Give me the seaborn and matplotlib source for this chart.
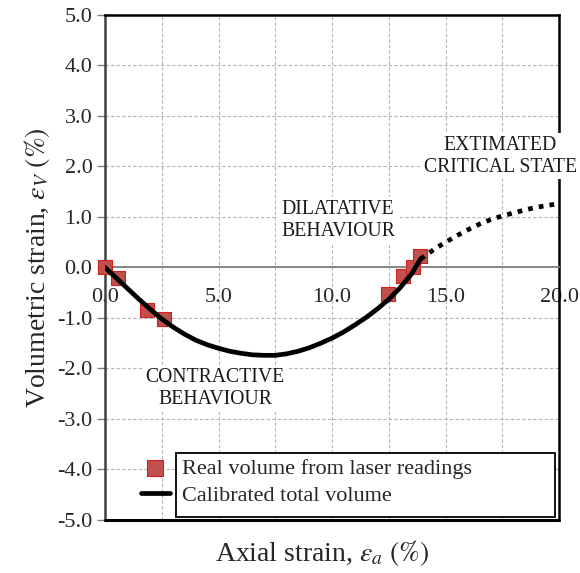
import numpy as np
import pandas as pd
import matplotlib
matplotlib.use('Agg')
import matplotlib.pyplot as plt
import seaborn as sns
from matplotlib.patches import Rectangle
from matplotlib.ticker import MultipleLocator

# laser readings (axial %, volumetric %)
laser_x = [0.0, 0.56, 1.86, 2.6, 12.45, 13.11, 13.55, 13.88]
laser_y = [0.0, -0.21, -0.85, -1.02, -0.52, -0.16, 0.0, 0.22]

# calibrated curve
calib_x = [0.0, 0.5, 1.0, 1.5, 2.0, 2.5, 3.0, 3.5, 4.0, 4.5, 5.0, 5.5, 6.0, 6.5, 7.0, 7.5,
           8.0, 8.5, 9.0, 9.5, 10.0, 10.5, 11.0, 11.5, 12.0, 12.5, 13.0, 13.5, 13.9]
calib_y = [0.0, -0.21, -0.42, -0.63, -0.83, -1.02, -1.18, -1.32, -1.44, -1.53, -1.60, -1.66,
           -1.70, -1.73, -1.74, -1.74, -1.71, -1.66, -1.59, -1.50, -1.40, -1.28, -1.14,
           -0.99, -0.82, -0.63, -0.40, -0.13, 0.17]

# extrapolated critical state (dotted)
crit_x = [13.9, 14.5, 15.0, 15.5, 16.0, 16.5, 17.0, 17.5, 18.0, 18.5, 19.0, 19.5, 19.8]
crit_y = [0.17, 0.36, 0.50, 0.63, 0.75, 0.86, 0.95, 1.02, 1.08, 1.14, 1.19, 1.23, 1.25]

laser = pd.DataFrame({'x': laser_x, 'y': laser_y})
calib = pd.DataFrame({'x': calib_x, 'y': calib_y})
crit = pd.DataFrame({'x': crit_x, 'y': crit_y})

sns.set_style('white')
plt.rcParams['font.family'] = ['Liberation Serif', 'DejaVu Serif']
plt.rcParams['mathtext.fontset'] = 'stix'

fig = plt.figure(figsize=(5.8, 5.73), dpi=100)
ax = fig.add_axes([0.181, 0.0925, 0.783, 0.8815])

ax.set_xlim(0, 20)
ax.set_ylim(-5, 5)
ax.xaxis.set_major_locator(MultipleLocator(5))
ax.xaxis.set_minor_locator(MultipleLocator(2.5))
ax.yaxis.set_major_locator(MultipleLocator(1))
ax.grid(True, which='both', color='#b5b5b5', linestyle=(0, (3, 2)), linewidth=0.8)
ax.set_axisbelow(True)

sns.lineplot(data=calib, x='x', y='y', color='black', linewidth=3.4, sort=False,
             estimator=None, ax=ax, label='Calibrated total volume', zorder=4)
sns.lineplot(data=crit, x='x', y='y', color='black', linewidth=3.4, sort=False,
             estimator=None, ax=ax, zorder=4)
ax.lines[-1].set_linestyle((0, (1, 1.3)))
ax.lines[-1].set_dash_capstyle('butt')
sns.scatterplot(data=laser, x='x', y='y', marker='s', s=90, color='#c0504d',
                edgecolor='#d02020', linewidth=0.8, ax=ax, zorder=3, clip_on=False,
                label='Real volume from laser readings')

ax.spines['bottom'].set_position(('data', 0))
ax.spines['bottom'].set_color('#7f7f7f')
ax.spines['bottom'].set_linewidth(1.3)
ax.spines['left'].set_color('#404040')
ax.spines['left'].set_linewidth(1.8)
for s in ['top', 'right']:
    ax.spines[s].set_color('black')
    ax.spines[s].set_linewidth(1.8)
ax.axhline(-5, color='black', linewidth=2.2, clip_on=False, zorder=2.6)

ax.tick_params(axis='x', which='both', length=0, pad=15, labelsize=16)
ax.tick_params(axis='y', length=6, width=1, color='#7f7f7f', direction='out', labelsize=16, pad=3)
ax.yaxis.set_ticks_position('left')
ax.set_xticks([0, 5, 10, 15, 20])
ax.set_xticklabels(['0.0', '5.0', '10.0', '15.0', '20.0'])
ax.set_yticks(np.arange(-5, 6, 1))
ax.set_yticklabels([f'{v:.1f}' for v in np.arange(-5, 6, 1)])

ax.set_xlabel(r'Axial strain, $\varepsilon_a\ \mathit{(\%)}$', fontsize=20)
ax.set_ylabel(r'Volumetric strain, $\varepsilon_V\ \mathit{(\%)}$', fontsize=20, labelpad=4)
ax.xaxis.set_label_coords(0.478, -0.035)

box = dict(facecolor='white', edgecolor='none', pad=2)
ax.text(10.26, 0.93, 'DILATATIVE\nBEHAVIOUR', ha='center', va='center', fontsize=14.2,
        linespacing=1.2, bbox=box, color='#1a1a1a', zorder=3)
ax.text(4.85, -2.40, 'CONTRACTIVE\nBEHAVIOUR', ha='center', va='center', fontsize=14.2,
        linespacing=1.2, bbox=box, color='#1a1a1a', zorder=3)
ax.text(17.4, 2.2, 'EXTIMATED\nCRITICAL STATE', ha='center', va='center', fontsize=14.2,
        linespacing=1.2, bbox=box, color='#1a1a1a', zorder=3, clip_on=False)

h, l = ax.get_legend_handles_labels()
order = [l.index('Real volume from laser readings'), l.index('Calibrated total volume')]
leg = ax.legend([h[i] for i in order], [l[i] for i in order], loc='lower left',
                bbox_to_anchor=(0.04, -0.008), frameon=False, fontsize=16,
                handlelength=1.3, handletextpad=0.55, labelspacing=0.3, borderpad=0.3,
                markerscale=1.15)
ax.add_patch(Rectangle((0.156, 0.006), 0.835, 0.127, transform=ax.transAxes,
                       facecolor='white', edgecolor='black', linewidth=1.3, zorder=3.5))
leg.set_zorder(5)

fig.savefig('out.png', dpi=100)
